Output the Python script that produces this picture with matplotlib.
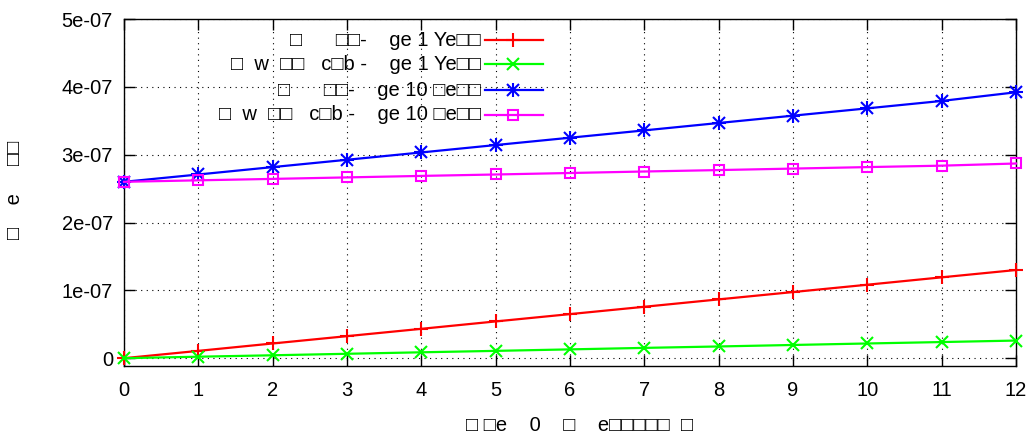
import matplotlib
matplotlib.use("Agg")
import matplotlib.pyplot as plt
from matplotlib.lines import Line2D
from matplotlib.ticker import FuncFormatter, MultipleLocator

years = [0, 1, 2, 3, 4, 5, 6, 7, 8, 9, 10, 11, 12]
red_vals = [0, 1.08e-8, 2.17e-8, 3.25e-8, 4.33e-8, 5.42e-8, 6.5e-8, 7.58e-8,
            8.67e-8, 9.75e-8, 1.083e-7, 1.192e-7, 1.30e-7]
green_vals = [0, 2.2e-9, 4.3e-9, 6.5e-9, 8.7e-9, 1.08e-8, 1.3e-8, 1.52e-8,
              1.73e-8, 1.95e-8, 2.17e-8, 2.38e-8, 2.6e-8]
blue_vals = [2.6e-7, 2.708e-7, 2.817e-7, 2.925e-7, 3.033e-7, 3.142e-7, 3.25e-7,
             3.358e-7, 3.467e-7, 3.575e-7, 3.683e-7, 3.792e-7, 3.92e-7]
magenta_vals = [2.6e-7, 2.622e-7, 2.643e-7, 2.665e-7, 2.687e-7, 2.708e-7, 2.73e-7,
                2.752e-7, 2.773e-7, 2.795e-7, 2.817e-7, 2.838e-7, 2.87e-7]
series_labels = [
    "\u25a1      \u25a1\u25a1-    ge 1 Ye\u25a1\u25a1",
    "\u25a1  w  \u25a1\u25a1   c\u25a1b -    ge 1 Ye\u25a1\u25a1",
    "\u25a1      \u25a1\u25a1-    ge 10 \u25a1e\u25a1\u25a1",
    "\u25a1  w  \u25a1\u25a1   c\u25a1b -    ge 10 \u25a1e\u25a1\u25a1",
]
x_label = "\u25a1 \u25a1e    0    \u25a1    e\u25a1\u25a1\u25a1\u25a1\u25a1  \u25a1"
y_label = "\u25a1    e     \u25a1\u25a1"

plt.rcParams['font.family'] = ['Liberation Sans', 'DejaVu Sans']
plt.rcParams['font.size'] = 14.5

W, H = 1033, 436
fig = plt.figure(figsize=(W/100, H/100), dpi=100)
L, R, T, B = 124, 1016, 19, 366
ax = fig.add_axes([L/W, 1 - B/H, (R-L)/W, (B-T)/H])

lw = 1.6
ms = 10
mew = 1.5
ax.plot(years, red_vals, color='#ff0000', lw=lw, marker='+', ms=ms, mew=mew, clip_on=False, zorder=3)
ax.plot(years, green_vals, color='#00ff00', lw=lw, marker='x', ms=ms*0.8, mew=mew, clip_on=False, zorder=3)
ax.plot(years, blue_vals, color='#0000ff', lw=lw, marker='+', ms=ms, mew=mew, clip_on=False, zorder=3)
ax.plot(years, blue_vals, color='#0000ff', lw=0, marker='x', ms=ms*0.8, mew=mew, clip_on=False, zorder=3)
ax.plot(years, magenta_vals, color='#ff00ff', lw=lw, marker='s', ms=ms*0.75, mew=mew,
        mfc='none', clip_on=False, zorder=3)

ax.set_xlim(0, 12)
ax.set_ylim(-1.15e-8, 5e-7)
ax.xaxis.set_major_locator(MultipleLocator(1))
ax.yaxis.set_major_locator(MultipleLocator(1e-7))
ax.yaxis.set_major_formatter(FuncFormatter(lambda v, p: "%g" % v))
ax.tick_params(direction='in', length=8, width=1, top=True, right=True)
ax.tick_params(axis='x', pad=11)
ax.tick_params(axis='y', pad=8)
ax.grid(True, color='black', linestyle=(0, (1, 4)), lw=0.8)
for s in ax.spines.values():
    s.set_linewidth(1)

fig.text(580/W, 1 - 425/H, x_label, ha='center', va='center')
fig.text(15/W, 1 - 190/H, y_label, ha='center', va='center', rotation=90)

# manual gnuplot-style key
colors = ['#ff0000', '#00ff00', '#0000ff', '#ff00ff']
ys_px = [40, 64, 90, 115]
for lab, c, ypx, i in zip(series_labels, colors, ys_px, range(4)):
    yf = 1 - ypx / H
    fig.text(481/W, yf, lab, ha='right', va='center')
    fig.add_artist(Line2D([485/W, 543/W], [yf, yf], color=c, lw=lw))
    mx = [513/W]
    if i == 0:
        fig.add_artist(Line2D(mx, [yf], color=c, marker='+', ms=ms, mew=mew, lw=0))
    elif i == 1:
        fig.add_artist(Line2D(mx, [yf], color=c, marker='x', ms=ms*0.8, mew=mew, lw=0))
    elif i == 2:
        fig.add_artist(Line2D(mx, [yf], color=c, marker='+', ms=ms, mew=mew, lw=0))
        fig.add_artist(Line2D(mx, [yf], color=c, marker='x', ms=ms*0.8, mew=mew, lw=0))
    else:
        fig.add_artist(Line2D(mx, [yf], color=c, marker='s', ms=ms*0.75, mew=mew, mfc='none', lw=0))

fig.savefig("out.png", dpi=100)
